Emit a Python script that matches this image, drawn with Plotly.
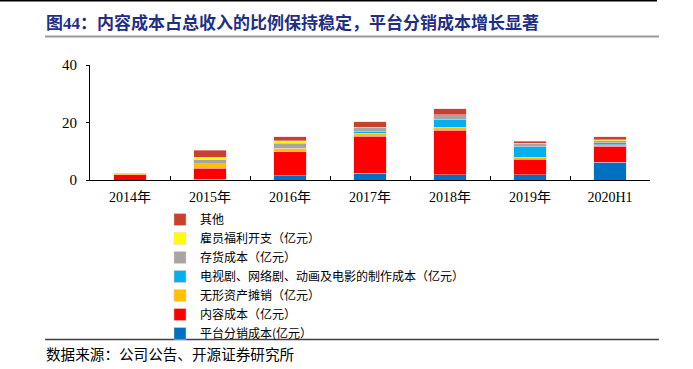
import plotly.graph_objects as go

categories = ["2014年", "2015年", "2016年", "2017年", "2018年", "2019年", "2020H1"]
platform = [0.0, 0.3, 1.4, 2.3, 1.8, 1.8, 6.1]
content = [1.8, 3.8, 8.4, 12.9, 15.5, 5.5, 5.7]
intangible = [0.6, 1.5, 1.3, 1.1, 1.0, 0.7, 0.5]
production = [0.0, 0.0, 0.0, 0.7, 2.8, 3.7, 0.8]
inventory = [0.0, 1.5, 1.6, 1.4, 1.6, 1.0, 0.5]
welfare = [0.0, 0.9, 0.9, 0.0, 0.0, 0.0, 0.4]
other = [0.0, 2.3, 1.5, 1.8, 2.1, 0.7, 1.1]

series = [
    ("平台分销成本(亿元）", platform, "#0070C0"),
    ("内容成本（亿元）", content, "#FF0000"),
    ("无形资产摊销（亿元）", intangible, "#FFC000"),
    ("电视剧、网络剧、动画及电影的制作成本（亿元）", production, "#00B0F0"),
    ("存货成本（亿元）", inventory, "#A5A5A5"),
    ("雇员福利开支（亿元）", welfare, "#FFFF00"),
    ("其他", other, "#C8412F"),
]

serif = "Liberation Serif, Noto Sans CJK SC, serif"

fig = go.Figure()
for name, vals, color in series:
    fig.add_trace(go.Bar(
        x=categories, y=vals, name=name,
        marker=dict(color=color, line=dict(color="rgba(255,200,200,0.6)", width=0.8)),
    ))

L, R, T, B = 90, 650, 65, 180
W, H = 693, 369

def px_x(p):
    return (p - L) / (R - L)

def px_y(p):
    return (B - p) / (B - T)

fig.update_layout(
    width=W, height=H,
    margin=dict(l=L, r=W - R, t=T, b=H - B, autoexpand=False),
    barmode="stack",
    bargap=0.59,
    plot_bgcolor="white",
    paper_bgcolor="white",
    font=dict(family=serif, size=14, color="black"),
    showlegend=True,
    legend=dict(
        x=px_x(160), y=px_y(205), xanchor="left", yanchor="top",
        traceorder="reversed",
        font=dict(family="Noto Sans CJK SC, serif", size=12, color="black"),
        itemwidth=30, tracegroupgap=0,
        bgcolor="rgba(0,0,0,0)",
    ),
    xaxis=dict(
        showline=True, linecolor="black", linewidth=1,
        ticks="inside", ticklen=4, tickcolor="black", tickson="boundaries",
        tickfont=dict(family=serif, size=14),
        ticklabelstandoff=4,
        showgrid=False,
    ),
    yaxis=dict(
        range=[0, 40], tickvals=[0, 20, 40],
        showline=True, linecolor="black", linewidth=1,
        ticks="outside", ticklen=3, tickcolor="black",
        tickfont=dict(family=serif, size=15),
        ticklabelstandoff=6,
        showgrid=False, zeroline=False,
    ),
)

shapes = [
    dict(type="line", xref="paper", yref="paper", x0=px_x(0), x1=px_x(657), y0=px_y(0.75), y1=px_y(0.75),
         line=dict(color="black", width=1.5)),
    dict(type="line", xref="paper", yref="paper", x0=px_x(45), x1=px_x(659), y0=px_y(36.5), y1=px_y(36.5),
         line=dict(color="#999999", width=2)),
    dict(type="line", xref="paper", yref="paper", x0=px_x(45), x1=px_x(659), y0=px_y(339.5), y1=px_y(339.5),
         line=dict(color="#404040", width=1.5)),
]
fig.update_layout(shapes=shapes)

fig.add_annotation(
    xref="paper", yref="paper", x=px_x(44), y=px_y(23), xanchor="left", yanchor="middle",
    text="<b>图44：内容成本占总收入的比例保持稳定，平台分销成本增长显著</b>",
    showarrow=False, font=dict(family="Liberation Serif, Noto Sans CJK SC", size=17, color="#1F2F86"),
)
fig.add_annotation(
    xref="paper", yref="paper", x=px_x(44), y=px_y(353), xanchor="left", yanchor="middle",
    text="数据来源：公司公告、开源证券研究所",
    showarrow=False, font=dict(family="Noto Sans CJK SC", size=14.6, color="black"),
)

fig.write_html("out.html", config={"displayModeBar": False},
               post_script="document.body.style.margin='0';document.body.style.padding='0';")
